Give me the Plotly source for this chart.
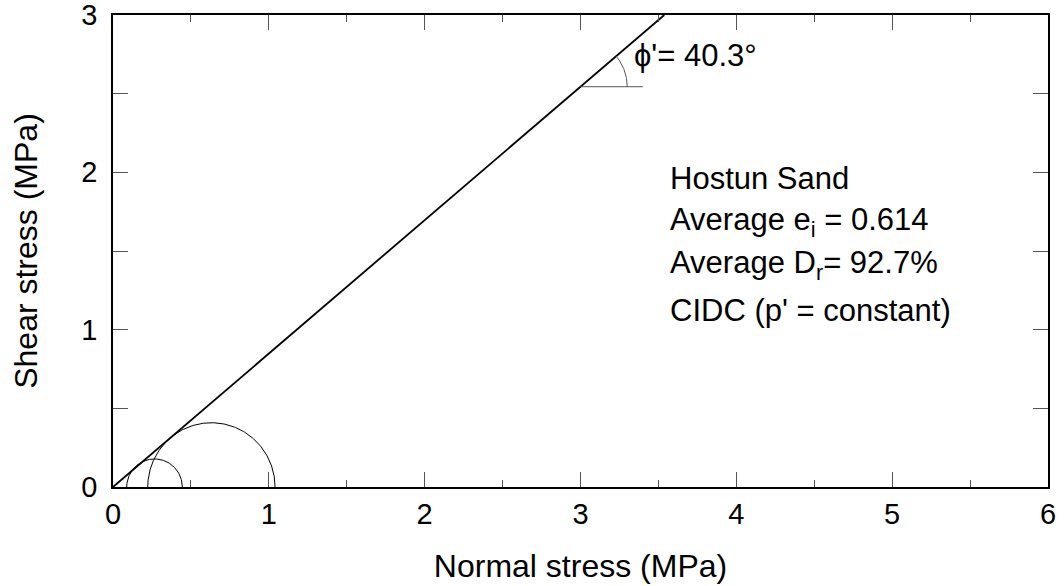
import numpy as np
import plotly.graph_objects as go

# Mohr circles: minor and major principal effective stresses (MPa)
sigma3 = [0.088, 0.223]
sigma1 = [0.445, 1.040]
phi_deg = 40.3
x_ticks = [0, 1, 2, 3, 4, 5, 6]
y_ticks = [0, 1, 2, 3]
info_lines = ["Hostun Sand", "Average e<sub>i</sub> = 0.614",
              "Average D<sub>r</sub>= 92.7%", "CIDC (p' = constant)"]

FONT = "Arial, Liberation Sans, sans-serif"
fig = go.Figure()

# Mohr circles (upper halves)
th = np.linspace(0, np.pi, 200)
for s3, s1 in zip(sigma3, sigma1):
    c = (s1 + s3) / 2
    r = (s1 - s3) / 2
    fig.add_trace(go.Scatter(x=c + r * np.cos(th), y=r * np.sin(th), mode="lines",
                             line=dict(color="black", width=1), showlegend=False,
                             hoverinfo="skip"))

# failure envelope
tphi = np.tan(np.radians(phi_deg))
xe = np.array([0, 3 / tphi])
fig.add_trace(go.Scatter(x=xe, y=tphi * xe, mode="lines",
                         line=dict(color="black", width=1.8), showlegend=False))

# angle marker
x0 = 3.0
y0 = tphi * x0
fig.add_trace(go.Scatter(x=[x0, x0 + 0.4], y=[y0, y0], mode="lines",
                         line=dict(color="#555555", width=1), showlegend=False))
a = np.linspace(0, np.radians(phi_deg), 40)
fig.add_trace(go.Scatter(x=x0 + 0.3 * np.cos(a), y=y0 + 0.3 * np.sin(a), mode="lines",
                         line=dict(color="#555555", width=1), showlegend=False))

fig.add_annotation(x=3.33, y=2.74, text="\u03d5'= 40.3\u00b0", showarrow=False,
                   xanchor="left", yanchor="middle", font=dict(size=31, color="black", family=FONT))

ys = [1.964, 1.685, 1.411, 1.125]
for t, yy in zip(info_lines, ys):
    fig.add_annotation(x=3.56, y=yy, text=t, showarrow=False, xanchor="left",
                       yanchor="middle", font=dict(size=31, color="black", family=FONT))

axis_common = dict(showgrid=False, zeroline=False, showline=True, linecolor="black",
                   linewidth=1.5, mirror="ticks", ticks="inside", tickcolor="#555555",
                   tickwidth=1, ticklen=15, automargin=False, ticklabeloverflow="allow",
                   tickfont=dict(size=29, color="black", family=FONT))

fig.update_xaxes(range=[0, 6], tickvals=x_ticks,
                 title=dict(text="Normal stress (MPa)", font=dict(size=32, color="black", family=FONT),
                            standoff=26),
                 minor=dict(ticks="inside", dtick=0.5, ticklen=7, tickcolor="#555555", tickwidth=1),
                 **axis_common)
fig.update_yaxes(range=[0, 3], tickvals=y_ticks, ticklabelstandoff=8,
                 title=dict(text="Shear stress (MPa)", font=dict(size=32, color="black", family=FONT),
                            standoff=34),
                 minor=dict(ticks="inside", dtick=0.5, ticklen=15, tickcolor="#555555", tickwidth=1),
                 **axis_common)

fig.update_layout(width=1064, height=586, margin=dict(l=113, r=16, t=15, b=99),
                  plot_bgcolor="white", paper_bgcolor="white", showlegend=False)
fig.write_html("out.html")
